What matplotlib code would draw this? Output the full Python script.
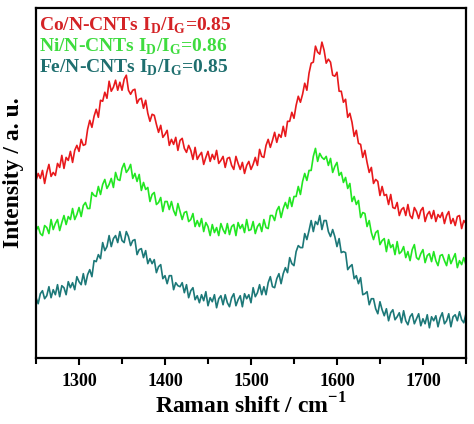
import numpy as np
import matplotlib
matplotlib.use("Agg")
import matplotlib.pyplot as plt
from matplotlib.ticker import MultipleLocator

# Raman spectra of the three N-CNT samples (curves offset vertically, arbitrary units)
raman_shift = np.linspace(1250, 1750, 201)

co_intensity = [
    177, 184, 179, 187, 174, 185, 193, 181, 185, 182,
    194, 190, 202, 189, 200, 197, 206, 195, 207, 212,
    206, 218, 212, 213, 228, 237, 230, 241, 248, 240,
    257, 256, 265, 259, 276, 266, 270, 277, 267, 275,
    267, 278, 282, 267, 263, 267, 268, 254, 258, 259,
    249, 257, 244, 236, 243, 242, 233, 225, 232, 220,
    223, 227, 212, 218, 213, 220, 207, 217, 219, 209,
    205, 212, 207, 198, 210, 198, 202, 205, 193, 200,
    206, 196, 203, 198, 207, 194, 197, 201, 190, 199,
    200, 192, 188, 201, 194, 188, 195, 184, 192, 196,
    188, 193, 200, 192, 208, 201, 200, 212, 218, 210,
    217, 225, 215, 223, 220, 231, 221, 236, 236, 245,
    239, 252, 261, 255, 263, 274, 267, 284, 294, 295,
    311, 305, 303, 315, 307, 294, 298, 295, 282, 281,
    285, 266, 266, 255, 258, 240, 244, 235, 221, 227,
    214, 213, 200, 207, 195, 185, 190, 174, 178, 176,
    162, 171, 162, 163, 153, 163, 150, 149, 155, 142,
    148, 150, 142, 153, 142, 139, 150, 146, 139, 147,
    150, 136, 143, 146, 139, 147, 136, 143, 140, 145,
    134, 142, 146, 134, 139, 132, 141, 142, 129, 137,
    134,
]
ni_intensity = [
    127, 131, 124, 122, 132, 130, 124, 138, 128, 134,
    138, 127, 135, 142, 133, 141, 138, 149, 138, 143,
    150, 141, 152, 155, 149, 149, 165, 162, 161, 171,
    163, 173, 178, 169, 173, 179, 170, 185, 178, 177,
    189, 194, 185, 188, 193, 179, 184, 176, 183, 167,
    175, 168, 170, 156, 163, 165, 153, 155, 160, 146,
    156, 156, 148, 156, 147, 142, 154, 146, 138, 145,
    146, 136, 138, 144, 131, 137, 131, 139, 126, 135,
    131, 122, 133, 125, 130, 122, 134, 128, 124, 134,
    123, 131, 133, 122, 135, 129, 133, 125, 138, 127,
    128, 136, 124, 131, 134, 126, 138, 130, 129, 142,
    142, 137, 147, 151, 140, 149, 155, 149, 160, 151,
    161, 161, 171, 163, 176, 184, 177, 187, 187, 201,
    209, 196, 204, 200, 198, 201, 192, 199, 185, 191,
    195, 182, 185, 175, 180, 169, 174, 156, 161, 153,
    157, 140, 145, 144, 131, 137, 125, 118, 125, 127,
    113, 117, 119, 106, 118, 110, 113, 103, 116, 104,
    106, 111, 100, 106, 97, 108, 113, 100, 98, 104,
    108, 95, 102, 104, 96, 106, 97, 92, 102, 103,
    97, 92, 103, 94, 99, 104, 90, 97, 93, 100,
    93,
]
fe_intensity = [
    60, 54, 64, 67, 59, 62, 71, 60, 68, 63,
    73, 61, 72, 70, 63, 76, 70, 75, 68, 81,
    76, 73, 84, 73, 83, 88, 81, 97, 96, 103,
    99, 115, 107, 111, 122, 111, 119, 122, 115, 126,
    117, 115, 126, 121, 112, 117, 118, 103, 108, 109,
    100, 107, 94, 99, 94, 98, 85, 91, 93, 79,
    82, 74, 82, 82, 68, 75, 72, 71, 75, 65,
    73, 60, 67, 70, 58, 62, 55, 63, 57, 66,
    52, 60, 56, 63, 50, 59, 62, 53, 63, 55,
    51, 60, 64, 52, 58, 62, 51, 64, 59, 63,
    55, 70, 61, 65, 73, 63, 71, 63, 75, 81,
    71, 70, 79, 84, 74, 84, 90, 85, 100, 94,
    92, 106, 112, 110, 110, 124, 118, 127, 137, 126,
    136, 133, 142, 128, 137, 137, 126, 121, 128, 121,
    111, 119, 105, 106, 105, 88, 91, 93, 79, 82,
    74, 80, 63, 64, 66, 53, 59, 59, 49, 44,
    56, 48, 42, 49, 37, 45, 48, 38, 41, 45,
    35, 47, 37, 33, 41, 44, 34, 39, 44, 32,
    39, 34, 43, 30, 41, 37, 42, 31, 40, 45,
    34, 37, 44, 31, 41, 43, 37, 46, 38, 35,
    44,
]

labels = [
    r"Co/N-CNTs I$_\mathbf{D}$/I$_\mathbf{G}$=0.85",
    r"Ni/N-CNTs I$_\mathbf{D}$/I$_\mathbf{G}$=0.86",
    r"Fe/N-CNTs I$_\mathbf{D}$/I$_\mathbf{G}$=0.85",
]
line_colors = ["#e8191c", "#22e622", "#1c7878"]
text_colors = ["#d42326", "#3fdc3f", "#1f6f6f"]

plt.rcParams["font.family"] = "Liberation Serif"
plt.rcParams["font.weight"] = "bold"
plt.rcParams["mathtext.fontset"] = "custom"
plt.rcParams["mathtext.bf"] = "Liberation Serif:bold"
plt.rcParams["mathtext.rm"] = "Liberation Serif:bold"

fig = plt.figure(figsize=(4.74, 4.24), dpi=100)
ax = fig.add_axes([0.076, 0.156, 0.907, 0.825])

for y, c in zip([co_intensity, ni_intensity, fe_intensity], line_colors):
    ax.plot(raman_shift, y, color=c, linewidth=1.2)

for i, (lab, c) in enumerate(zip(labels, text_colors)):
    ax.text(0.008, 0.978 - i * 0.06, lab, transform=ax.transAxes, color=c,
            fontsize=14, fontweight="bold", va="top", ha="left")

ax.set_xlim(1250, 1750)
ax.set_ylim(0, 349)
ax.set_yticks([])
ax.xaxis.set_major_locator(MultipleLocator(100))
ax.xaxis.set_minor_locator(MultipleLocator(50))
ax.tick_params(axis="x", which="major", direction="out", length=5, width=1.5,
               labelsize=13, pad=6)
ax.tick_params(axis="x", which="minor", direction="out", length=4, width=1.5)
for lab in ax.get_xticklabels():
    lab.set_fontweight("bold")
for s in ax.spines.values():
    s.set_linewidth(1.6)

ax.set_xlabel(r"Raman shift / cm$^\mathbf{-1}$", fontsize=17, fontweight="bold", labelpad=2)
ax.set_ylabel("Intensity / a. u.", fontsize=17, fontweight="bold")
ax.yaxis.set_label_coords(-0.028, 0.53)

fig.savefig("out.png", dpi=100)
